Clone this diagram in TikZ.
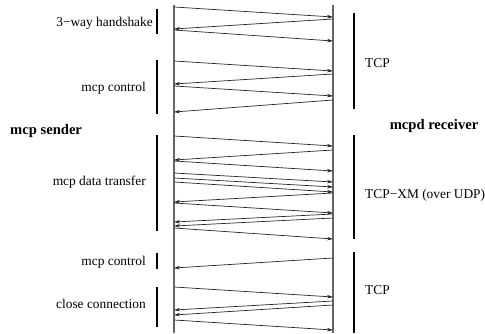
\documentclass[tikz,border=0pt]{standalone}
\usepackage{fontspec}
\setmainfont{Liberation Serif}
\usetikzlibrary{arrows.meta}
\tikzset{
  lifeline/.style={line width=1.3pt, black!60},
  msg/.style={line width=0.7pt, black!85, -{Stealth[length=6pt,width=3.5pt]}},
  phase/.style={line width=1.4pt},
  lbl/.style={inner sep=0pt, font=\fontsize{13.4}{16}\selectfont},
  role/.style={inner sep=0pt, font=\fontsize{14.6}{17}\selectfont\bfseries}
}
\begin{document}
\begin{tikzpicture}[x=1pt, y=-1pt]
    \useasboundingbox (0,0) rectangle (485,334);
    \coordinate (stop) at (174,5);
    \coordinate (sbot) at (174,333);
    \coordinate (rtop) at (333,5);
    \coordinate (rbot) at (333,333);
    \draw [lifeline] (stop)--(sbot);
    \draw [lifeline] (rtop)--(rbot);
    \foreach \ya/\yb [count=\i] in {7/17, 30/41, 61/71, 86/96, 136/146, 161/171, 173/182, 178/187, 182/192, 203/213, 228/239, 287/297, 320/330} {
      \coordinate (a\i) at (174,\ya);
      \coordinate (b\i) at (333,\yb);
      \draw [msg] (a\i)--(b\i);
    }
    \foreach \yb/\ya [count=\i] in {19/29, 74/84, 100/112, 150/160, 193/202, 214/222, 218/226, 258/268, 301/310, 305/315} {
      \coordinate (c\i) at (333,\yb);
      \coordinate (d\i) at (174,\ya);
      \draw [msg] (c\i)--(d\i);
    }
    \draw [phase] (157,9)--(157,34);
    \draw [phase] (157,60)--(157,114);
    \draw [phase] (157,135)--(157,231);
    \draw [phase] (157,253)--(157,269);
    \draw [phase] (157,287)--(157,327);
    \draw [phase] (354,13)--(354,109);
    \draw [phase] (354,135)--(354,239);
    \draw [phase] (354,252)--(354,333);
    \node (hs) [lbl, anchor=east] at (153,23) {3−way handshake};
    \node (ctl) [lbl, anchor=east] at (146,88) {mcp control};
    \node (dat) [lbl, anchor=east] at (146,182) {mcp data transfer};
    \node (ctlb) [lbl, anchor=east] at (146,262) {mcp control};
    \node (cls) [lbl, anchor=east] at (146,304) {close connection};
    \node (tcp) [lbl, anchor=west] at (365,63) {TCP};
    \node (xm) [lbl, anchor=west] at (365,195) {TCP−XM (over UDP)};
    \node (tcpb) [lbl, anchor=west] at (365,290) {TCP};
    \node (snd) [role, anchor=west] at (10,131) {mcp sender};
    \node (rcv) [role] at (434,126) {mcpd receiver};
  \end{tikzpicture}
\end{document}
